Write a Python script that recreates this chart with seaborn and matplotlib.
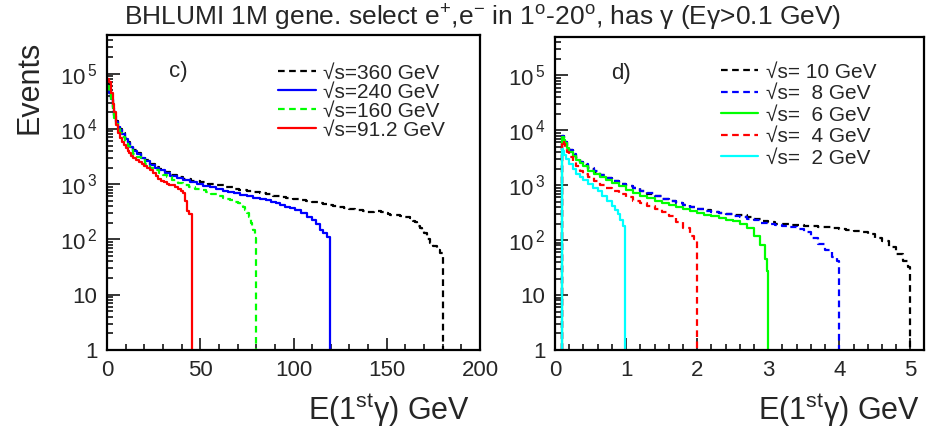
import numpy as np
import pandas as pd
import matplotlib
matplotlib.use('Agg')
import matplotlib.pyplot as plt
import seaborn as sns
from matplotlib.ticker import FixedLocator, FixedFormatter, MultipleLocator, LogLocator, NullFormatter

# ---- panel c) : high energies (E in GeV, events per bin) ----
x_360 = [0, 1, 2, 3, 4, 5, 6, 7, 8, 9.5, 11, 12.5, 14, 16, 18, 20.5, 23, 25.5, 28, 31, 34, 37.5, 41,
         45, 50, 54, 58, 63, 67.5, 71, 75, 78.5, 82, 85.5, 89, 92.5, 96, 99.5, 103, 106.5, 110, 113,
         116, 118.5, 121, 124, 127, 130, 133, 135, 137, 139, 141, 143, 145, 147, 149, 150.5, 152,
         154.5, 157, 159, 161, 162.5, 164, 165, 166, 167, 168, 169, 170, 171.5, 173, 175, 177,
         178.5, 180]
n_360 = [6.5e4, 5e4, 3.6e4, 2.5e4, 1.8e4, 1.4e4, 1.15e4, 9800, 8300, 6800, 5700, 4900, 4200, 3600,
         3100, 2700, 2300, 2050, 1850, 1650, 1450, 1350, 1260, 1150, 1080, 1010, 950, 880, 820, 790,
         760, 730, 700, 660, 620, 590, 560, 530, 510, 490, 470, 450, 430, 415, 400, 385, 370, 355,
         345, 335, 330, 315, 310, 325, 330, 310, 300, 290, 280, 275, 270, 260, 250, 240, 220, 210,
         190, 175, 160, 145, 130, 100, 85, 75, 65, 58, 1]

x_240 = [0, 1, 2, 3, 4, 5, 6, 7, 8, 9.5, 11, 12.5, 14, 16, 18, 20.5, 23, 25.5, 28, 31, 34, 37.5, 41,
         44.5, 48, 51.5, 55, 58.5, 62, 65, 68, 71.5, 75, 78.5, 82, 85, 88, 90.5, 93, 95.5, 98, 101,
         104, 107, 110, 112, 114, 116, 118, 119.6]
n_240 = [6e4, 4.5e4, 3.5e4, 2.4e4, 1.7e4, 1.35e4, 1.1e4, 9500, 8000, 6500, 5500, 4700, 4000, 3500,
         3000, 2600, 2200, 2000, 1800, 1600, 1400, 1280, 1170, 1080, 1000, 940, 880, 820, 760, 720,
         680, 640, 600, 570, 540, 510, 480, 450, 415, 390, 370, 340, 300, 260, 225, 190, 150, 130,
         110, 1]

x_160 = [0, 1, 2, 3, 4, 5, 6, 7, 8, 9.5, 11, 12.5, 14, 16, 18, 20.5, 23, 25.5, 28, 30, 32, 35, 38,
         41, 44, 47, 50, 53, 56, 59, 62, 64, 66, 68, 70, 71.5, 73, 74, 75, 76, 77, 78, 78.5, 79.5, 80]
n_160 = [6e4, 4.4e4, 3.2e4, 2.2e4, 1.6e4, 1.25e4, 1e4, 8500, 7000, 5900, 5000, 4200, 3500, 3100,
         2700, 2300, 2000, 1800, 1600, 1450, 1330, 1180, 1050, 970, 900, 830, 770, 710, 660, 610,
         570, 540, 510, 480, 450, 420, 380, 340, 300, 250, 200, 170, 150, 105, 1]

x_912 = [0, 1, 2, 3, 4, 5, 6, 7, 8, 9, 10, 11, 12, 13, 14, 15.5, 17, 18.5, 20, 21.5, 23, 24.5, 26,
         27.5, 29, 30.5, 32, 33.5, 35, 36.5, 38, 39.5, 41, 42, 43, 44, 45.6]
n_912 = [8e4, 7e4, 4.5e4, 2.8e4, 2e4, 1.2e4, 8500, 6800, 5800, 5100, 4500, 4000, 3600, 3300, 3000,
         2750, 2500, 2300, 2100, 1950, 1780, 1600, 1400, 1250, 1150, 1080, 1000, 980, 950, 880,
         820, 750, 680, 500, 330, 290, 1]

# ---- panel d) : low energies ----
x_10 = [0.1, 0.1, 0.12, 0.14, 0.17, 0.2, 0.25, 0.3, 0.35, 0.4, 0.47, 0.55, 0.63, 0.72, 0.8, 0.9,
        1.0, 1.1, 1.2, 1.3, 1.4, 1.5, 1.6, 1.7, 1.8, 1.9, 2.0, 2.1, 2.2, 2.3, 2.4, 2.5, 2.6, 2.7,
        2.8, 2.9, 3.0, 3.1, 3.2, 3.3, 3.4, 3.5, 3.6, 3.7, 3.8, 3.9, 4.0, 4.1, 4.2, 4.3, 4.4, 4.5,
        4.6, 4.7, 4.8, 4.9, 4.96, 5.0]
n_10 = [1, 7800, 6800, 6000, 5000, 4300, 3600, 3100, 2700, 2350, 2000, 1750, 1560, 1350, 1200, 1060,
        960, 890, 780, 700, 640, 560, 510, 480, 440, 400, 370, 350, 330, 315, 300, 285, 290, 260,
        240, 225, 210, 200, 195, 190, 185, 180, 178, 172, 170, 165, 160, 155, 145, 138, 128, 110,
        97, 75, 56, 42, 32, 1]

x_8 = [0.1, 0.1, 0.12, 0.14, 0.17, 0.2, 0.25, 0.3, 0.35, 0.4, 0.47, 0.55, 0.63, 0.72, 0.8, 0.9,
       1.0, 1.1, 1.2, 1.3, 1.4, 1.5, 1.6, 1.7, 1.8, 1.9, 2.0, 2.1, 2.2, 2.3, 2.4, 2.5, 2.6, 2.7,
       2.8, 2.9, 3.0, 3.1, 3.2, 3.3, 3.4, 3.5, 3.6, 3.7, 3.8, 3.9, 3.96, 4.0]
n_8 = [1, 8000, 7000, 6100, 5100, 4400, 3650, 3100, 2700, 2400, 2050, 1780, 1560, 1360, 1180, 1050,
       950, 880, 790, 710, 640, 570, 520, 470, 430, 400, 370, 345, 325, 310, 295, 280, 265, 245,
       230, 205, 195, 185, 180, 170, 160, 140, 110, 85, 65, 50, 42, 1]

x_6 = [0.1, 0.1, 0.12, 0.14, 0.17, 0.2, 0.25, 0.3, 0.35, 0.4, 0.47, 0.55, 0.63, 0.72, 0.8, 0.9,
       1.0, 1.1, 1.2, 1.3, 1.4, 1.5, 1.6, 1.7, 1.8, 1.9, 2.0, 2.1, 2.2, 2.3, 2.4, 2.5, 2.6, 2.7,
       2.8, 2.88, 2.95, 2.98, 3.0]
n_6 = [1, 7500, 6600, 5800, 4800, 4100, 3400, 2900, 2500, 2200, 1850, 1600, 1420, 1220, 1080, 950,
       820, 720, 640, 580, 520, 470, 430, 400, 370, 340, 310, 290, 270, 250, 235, 220, 195, 165,
       120, 80, 45, 28, 1]

x_4 = [0.1, 0.1, 0.12, 0.14, 0.17, 0.2, 0.25, 0.3, 0.35, 0.4, 0.47, 0.55, 0.63, 0.72, 0.8, 0.9,
       1.0, 1.1, 1.2, 1.3, 1.4, 1.5, 1.6, 1.7, 1.8, 1.9, 1.96, 2.0]
n_4 = [1, 6500, 5700, 5000, 4000, 3300, 2700, 2200, 1850, 1630, 1400, 1200, 1020, 900, 800, 700,
       600, 520, 470, 420, 370, 320, 270, 215, 165, 120, 105, 1]

x_2 = [0.1, 0.1, 0.11, 0.13, 0.16, 0.2, 0.25, 0.3, 0.35, 0.4, 0.47, 0.54, 0.6, 0.66, 0.73, 0.8,
       0.85, 0.88, 0.92, 0.95, 0.98]
n_2 = [1, 4500, 4200, 3600, 3000, 2400, 1950, 1600, 1400, 1250, 1050, 890, 770, 650, 510, 420,
       360, 300, 230, 180, 1]

left_series = [
    ('√s=360 GeV', x_360, n_360, 'black', True),
    ('√s=240 GeV', x_240, n_240, '#0000ff', False),
    ('√s=160 GeV', x_160, n_160, '#00ff00', True),
    ('√s=91.2 GeV', x_912, n_912, '#ff0000', False),
]
right_series = [
    ('√s= 10 GeV', x_10, n_10, 'black', True),
    ('√s=  8 GeV', x_8, n_8, '#0000ff', True),
    ('√s=  6 GeV', x_6, n_6, '#00ff00', False),
    ('√s=  4 GeV', x_4, n_4, '#ff0000', True),
    ('√s=  2 GeV', x_2, n_2, '#00ffff', False),
]

y_ticks = [1, 10, 100, 1000, 1e4, 1e5]
y_labels = ['1', '10', r'$10^{\,2}$', r'$10^{\,3}$', r'$10^{\,4}$', r'$10^{\,5}$']

sns.set_style('ticks')
plt.rcParams['font.family'] = ['Liberation Sans', 'DejaVu Sans']
plt.rcParams['mathtext.fontset'] = 'custom'
plt.rcParams['mathtext.rm'] = 'Liberation Sans'
plt.rcParams['mathtext.it'] = 'Liberation Sans:italic'
plt.rcParams['mathtext.bf'] = 'Liberation Sans:bold'

fig = plt.figure(figsize=(9.29, 4.32), dpi=100)
axL = fig.add_axes([0.1152, 0.1898, 0.4015, 0.7292])
axR = fig.add_axes([0.5974, 0.1898, 0.3972, 0.7246])


def draw(ax, series):
    for label, x, n, color, dashed in series:
        df = pd.DataFrame({'E': x, 'N': n})
        ls = (0, (3, 2)) if dashed else '-'
        sns.lineplot(data=df, x='E', y='N', ax=ax, estimator=None, sort=False,
                     drawstyle='steps-post', color=color, lw=1.6, linestyle=ls, label=label)


draw(axL, left_series)
draw(axR, right_series)

for ax in (axL, axR):
    ax.set_yscale('log')
    ax.set_ylim(1, 5e5)
    ax.yaxis.set_major_locator(FixedLocator(y_ticks))
    ax.yaxis.set_major_formatter(FixedFormatter(y_labels))
    ax.yaxis.set_minor_locator(LogLocator(base=10, subs=np.arange(2, 10), numticks=20))
    ax.yaxis.set_minor_formatter(NullFormatter())
    ax.tick_params(which='both', direction='in', top=False, right=False, width=1.3,
                   labelsize=16, pad=7)
    ax.tick_params(which='major', length=9)
    ax.tick_params(which='minor', length=4.5)
    for s in ax.spines.values():
        s.set_linewidth(1.6)
        s.set_color('black')
    ax.set_xlabel('')
    ax.set_ylabel('')

axL.set_xlim(0, 200)
axL.xaxis.set_major_locator(MultipleLocator(50))
axL.xaxis.set_minor_locator(MultipleLocator(10))
axR.set_xlim(0, 5.19)
axR.xaxis.set_major_locator(MultipleLocator(1))
axR.xaxis.set_minor_locator(MultipleLocator(0.2))

axL.legend(loc='upper left', bbox_to_anchor=(0.42, 0.955), frameon=False, fontsize=15,
           handlelength=1.8, handletextpad=0.35, labelspacing=0.0, borderpad=0.2)
axR.legend(loc='upper left', bbox_to_anchor=(0.41, 0.965), frameon=False, fontsize=15,
           handlelength=1.8, handletextpad=0.35, labelspacing=0.12, borderpad=0.2)

axL.text(0.19, 0.883, 'c)', transform=axL.transAxes, fontsize=16, ha='center', va='center')
axR.text(0.18, 0.883, 'd)', transform=axR.transAxes, fontsize=16, ha='center', va='center')

fig.text(0.519, 0.958,
         r'BHLUMI 1M gene. select e$^{+}$,e$^{-}$ in 1$^{\mathrm{o}}$-20$^{\mathrm{o}}$, has γ (Eγ>0.1 GeV)',
         ha='center', va='center', fontsize=19)
fig.text(0.032, 0.905, 'Events', rotation=90, ha='center', va='top', fontsize=22)
fig.text(0.506, 0.05, r'E(1$^{\mathrm{st}}$γ) GeV', ha='right', va='center', fontsize=22)
fig.text(0.990, 0.05, r'E(1$^{\mathrm{st}}$γ) GeV', ha='right', va='center', fontsize=22)

fig.savefig('out.png', dpi=100)
